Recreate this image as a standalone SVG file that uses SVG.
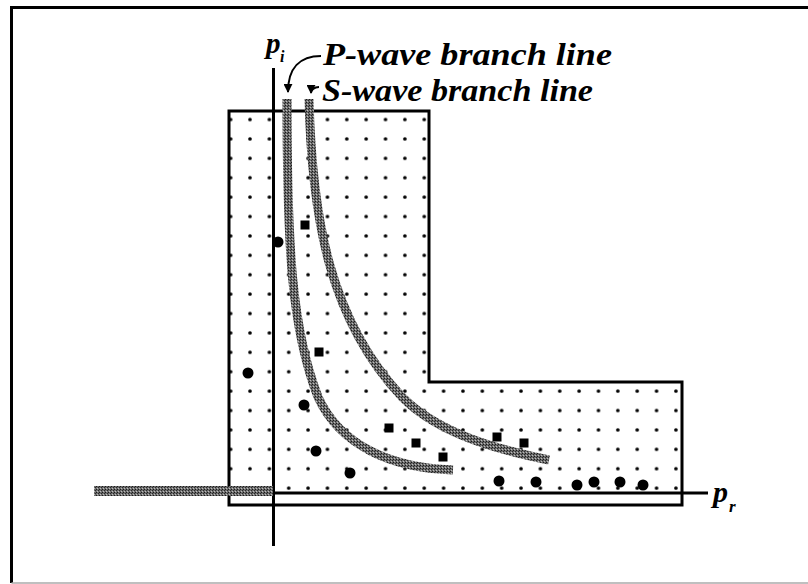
<svg xmlns="http://www.w3.org/2000/svg" xmlns:xlink="http://www.w3.org/1999/xlink" width="808" height="584" viewBox="0 0 808 584">
<defs>
<style>
.ln{fill:none;stroke:#000;stroke-width:3}
.br{fill:none;stroke:url(#hatch);stroke-width:9}
.lbl{font-family:"Liberation Serif","Times New Roman",serif;font-weight:bold;font-style:italic;fill:#000}
.dot{fill:#000}
.arr{fill:none;stroke:#000;stroke-width:2}
</style>
<pattern id="hatch" patternUnits="userSpaceOnUse" width="3" height="3">
<rect width="3" height="3" fill="#6c6c6c"/>
<rect width="1" height="1" fill="#1a1a1a"/>
<rect x="2" y="1" width="1" height="1" fill="#2a2a2a"/>
<rect x="1" y="2" width="1" height="1" fill="#bdbdbd"/>
</pattern>
<pattern id="grid" patternUnits="userSpaceOnUse" x="240.32" y="109.8" width="19.36" height="19.4">
<circle cx="9.68" cy="9.7" r="1.8" fill="#000"/>
</pattern>
<marker id="ah" viewBox="0 0 10 10" refX="9" refY="5" markerWidth="4.5" markerHeight="4.5" orient="auto" markerUnits="strokeWidth">
<path d="M0,0 L10,5 L0,10 Z" fill="#000"/>
</marker>
</defs>
<rect width="808" height="584" fill="#fff"/>
<g id="frame">
<path d="M808,7.5 H11.5 V583" fill="none" stroke="#000" stroke-width="3"/>
<path d="M11.5,583 H808" fill="none" stroke="#aaa" stroke-width="1.5"/>
</g>
<g id="region">
<path d="M229,111 H429 V382 H682 V505 H229 Z" fill="url(#grid)" stroke="#000" stroke-width="3"/>
</g>
<g id="axes">
<path class="ln" d="M273.5,68 V546"/>
<path class="ln" d="M273.5,493 H708"/>
<path d="M94,491 H273" fill="none" stroke="url(#hatch)" stroke-width="10"/>
<text class="lbl" x="266" y="53" font-size="29">p</text>
<text class="lbl" x="280" y="62" font-size="16">i</text>
<text class="lbl" x="713" y="502" font-size="30">p</text>
<text class="lbl" x="729" y="512" font-size="17">r</text>
</g>
<g id="p-wave">
<path class="br" d="M287,99 C287,250 292,330 318,397 C340,445 390,468 453,470"/>
<path class="arr" d="M321,56 C300,56 288,68 288,92" marker-end="url(#ah)"/>
<text class="lbl" x="323" y="65" font-size="31" textLength="289" lengthAdjust="spacingAndGlyphs">P-wave branch line</text>
</g>
<g id="s-wave">
<path class="br" d="M309,99 C312,220 330,320 402,397 C440,435 500,450 549,460"/>
<path class="arr" d="M319,87 C314,87 311,90 311,93" marker-end="url(#ah)"/>
<text class="lbl" x="322" y="100.5" font-size="31" textLength="271" lengthAdjust="spacingAndGlyphs">S-wave branch line</text>
</g>
<g id="circles" class="dot">
<circle cx="278" cy="242" r="5.5"/>
<circle cx="248" cy="373" r="5.5"/>
<circle cx="304" cy="405" r="5.5"/>
<circle cx="316" cy="451" r="5.5"/>
<circle cx="350" cy="473" r="5.5"/>
<circle cx="499" cy="481" r="5.5"/>
<circle cx="536" cy="482" r="5.5"/>
<circle cx="577" cy="485" r="5.5"/>
<circle cx="594" cy="482" r="5.5"/>
<circle cx="620" cy="482" r="5.5"/>
<circle cx="643" cy="485" r="5.5"/>
</g>
<g id="squares" class="dot">
<rect x="300.5" y="220.5" width="9" height="9"/>
<rect x="314.5" y="347.5" width="9" height="9"/>
<rect x="384.5" y="423.5" width="9" height="9"/>
<rect x="411.5" y="438.5" width="9" height="9"/>
<rect x="438.5" y="452.5" width="9" height="9"/>
<rect x="492.5" y="432.5" width="9" height="9"/>
<rect x="519.5" y="438.5" width="9" height="9"/>
</g>
</svg>
